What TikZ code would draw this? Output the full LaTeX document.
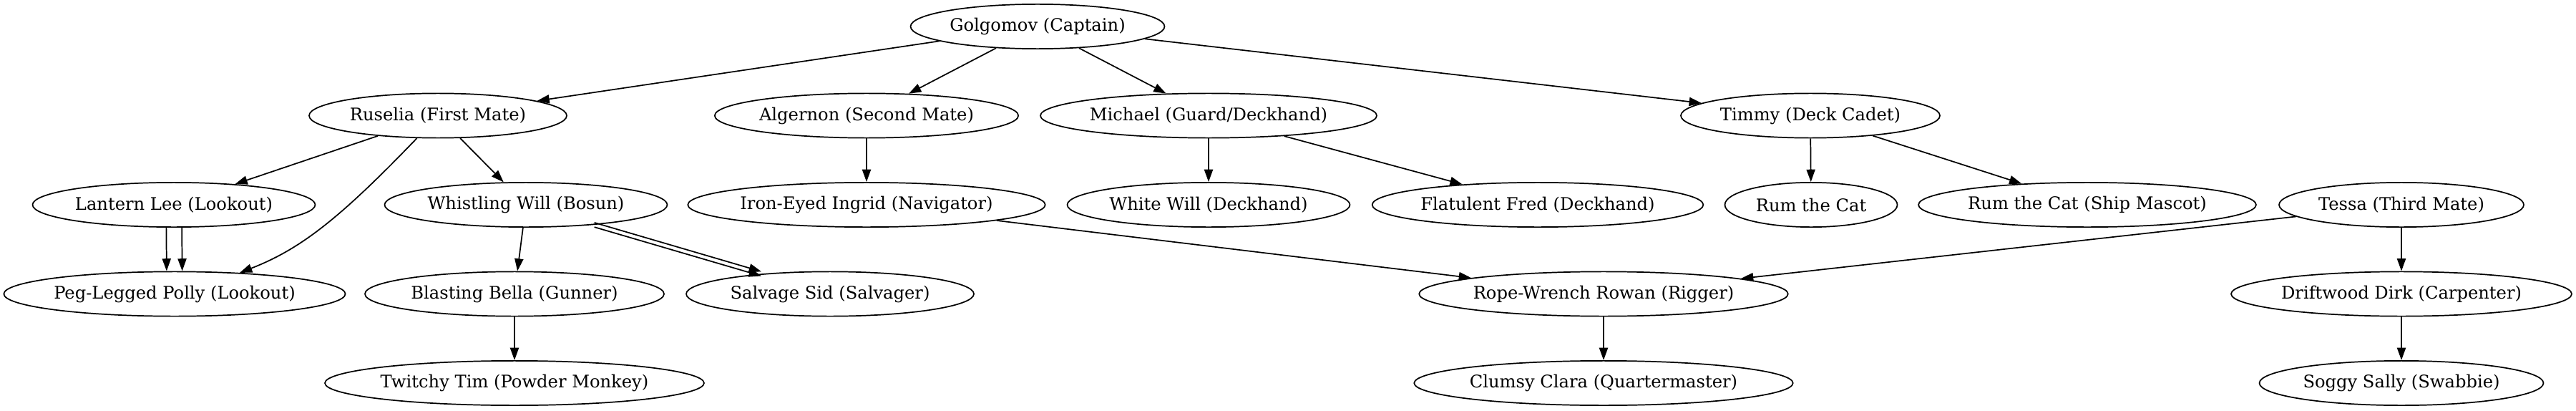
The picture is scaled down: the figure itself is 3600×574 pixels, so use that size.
\documentclass[tikz,border=0pt]{standalone}
\usepackage{fontspec}
\setmainfont{DejaVu Serif}
\usetikzlibrary{shapes.geometric,arrows.meta}

\begin{document}
\begin{tikzpicture}[x=0.5784pt, y=-0.5784pt,
  crew/.style={draw, ellipse, line width=1pt, minimum height=36pt, inner sep=0pt,
    font=\fontsize{14pt}{16pt}\selectfont},
  wd/.style={minimum width=#1*0.5784pt},
  crewlink/.style={draw, line width=1pt, -{Triangle[length=10pt,width=7pt]}}]
\useasboundingbox (0,0) rectangle (3600,574);

\node[crew, wd=355] (gol) at (1450,37) {Golgomov (Captain)};

\node[crew, wd=360] (rus) at (612,161.5) {Ruselia (First Mate)};
\node[crew, wd=424] (alg) at (1211,161.5) {Algernon (Second Mate)};
\node[crew, wd=464] (mic) at (1689,161.5) {Michael (Guard/Deckhand)};
\node[crew, wd=362] (tim) at (2530,161.5) {Timmy (Deck Cadet)};

\node[crew, wd=395] (lee) at (243,286) {Lantern Lee (Lookout)};
\node[crew, wd=395] (will) at (735,286) {Whistling Will (Bosun)};
\node[crew, wd=497] (ing) at (1211,286) {Iron-Eyed Ingrid (Navigator)};
\node[crew, wd=395] (wwill) at (1689,286) {White Will (Deckhand)};
\node[crew, wd=462] (fred) at (2149,286) {Flatulent Fred (Deckhand)};
\node[crew, wd=241] (rum) at (2531,286) {Rum the Cat};
\node[crew, wd=471] (mascot) at (2917,286) {Rum the Cat (Ship Mascot)};
\node[crew, wd=342] (tes) at (3356,286) {Tessa (Third Mate)};

\node[crew, wd=475] (polly) at (244,410.5) {Peg-Legged Polly (Lookout)};
\node[crew, wd=418] (bella) at (719,410.5) {Blasting Bella (Gunner)};
\node[crew, wd=402] (sid) at (1160,410.5) {Salvage Sid (Salvager)};
\node[crew, wd=508] (rowan) at (2241,410.5) {Rope-Wrench Rowan (Rigger)};
\node[crew, wd=476] (dirk) at (3356,410.5) {Driftwood Dirk (Carpenter)};

\node[crew, wd=524] (twitch) at (719,535) {Twitchy Tim (Powder Monkey)};
\node[crew, wd=526] (clara) at (2241,535) {Clumsy Clara (Quartermaster)};
\node[crew, wd=397] (sally) at (3356,535) {Soggy Sally (Swabbie)};

% captain and mates
\path[crewlink] (gol) -- (rus);
\path[crewlink] (gol) -- (alg);
\path[crewlink] (gol) -- (mic);
\path[crewlink] (gol) -- (tim);

\path[crewlink] (rus) -- (lee);
\path[crewlink] (rus) -- (will);
\path[crewlink] (rus.-133) .. controls (475,305) and (420,348) .. (polly.18);
\path[crewlink] (alg) -- (ing);
\path[crewlink] (mic) -- (wwill);
\path[crewlink] (mic) -- (fred);
\path[crewlink] (tim) -- (rum);
\path[crewlink] (tim) -- (mascot);

% lower decks
\path[crewlink, transform canvas={xshift=-6.3pt}] (lee) -- (polly);
\path[crewlink, transform canvas={xshift=6.3pt}] (lee) -- (polly);
\path[crewlink] (will) -- (bella);
\path[crewlink, transform canvas={yshift=1.8pt}] (will) -- (sid);
\path[crewlink, transform canvas={yshift=-1.8pt}] (will) -- (sid);
\path[crewlink] (ing) -- (rowan);
\path[crewlink] (tes) -- (rowan);
\path[crewlink] (tes) -- (dirk);

\path[crewlink] (bella) -- (twitch);
\path[crewlink] (rowan) -- (clara);
\path[crewlink] (dirk) -- (sally);
\end{tikzpicture}
\end{document}
